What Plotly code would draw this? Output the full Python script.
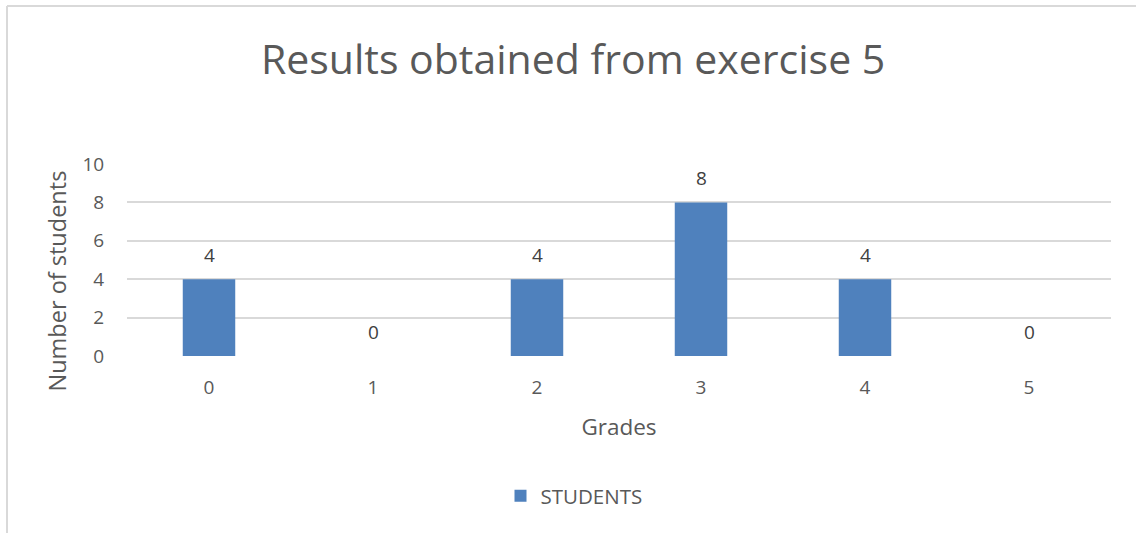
import plotly.graph_objects as go

grades = ["0", "1", "2", "3", "4", "5"]
students = [4, 0, 4, 8, 4, 0]
y_ticks = [0, 2, 4, 6, 8, 10]

FONT = "Open Sans"
GREY = "#595959"
BLUE = "#4F81BD"

fig = go.Figure()
fig.add_trace(go.Bar(
    x=grades, y=students, name="STUDENTS",
    marker=dict(color=BLUE, line=dict(width=0)),
    width=0.32, showlegend=True,
))

annotations = [
    dict(x=g, y=v, xref="x", yref="y", text=str(v), showarrow=False,
         yanchor="middle", yshift=24, font=dict(family=FONT, size=19, color="#404040"))
    for g, v in zip(grades, students)
]
# y-axis title (Excel places it slightly below the plot-area centre)
annotations.append(dict(
    text="Number of students", xref="paper", yref="paper",
    x=(56.5 - 127) / 984, y=(356 - 281) / 192, xanchor="center", yanchor="middle",
    textangle=-90, showarrow=False, font=dict(family=FONT, size=23.5, color=GREY),
))

fig.update_layout(
    width=1136, height=533,
    margin=dict(l=127, r=25, t=164, b=177),
    paper_bgcolor="white", plot_bgcolor="white",
    font=dict(family=FONT, color=GREY),
    title=dict(text="Results obtained from exercise 5", x=0.5045, xanchor="center",
               y=1 - 60 / 533, yanchor="middle", yref="container",
               font=dict(family=FONT, size=41, color=GREY)),
    xaxis=dict(
        type="category", showgrid=False, zeroline=False, showline=False,
        ticks="outside", ticklen=14, tickcolor="rgba(0,0,0,0)",
        tickfont=dict(family=FONT, size=19, color=GREY),
        title=dict(text="Grades", font=dict(family=FONT, size=22.5, color=GREY), standoff=20),
    ),
    yaxis=dict(
        range=[0, 10], tickvals=y_ticks, showgrid=True, gridcolor="#D9D9D9", gridwidth=1.5,
        zeroline=False, showline=False,
        ticks="outside", ticklen=18, tickcolor="rgba(0,0,0,0)",
        tickfont=dict(family=FONT, size=19, color=GREY),
    ),
    legend=dict(orientation="h", x=0.5 - 45 / 984, xanchor="center", y=-0.729, yanchor="middle",
                font=dict(family=FONT, size=20.5, color=GREY), itemwidth=30),
    annotations=annotations,
    shapes=[
        dict(type="line", xref="paper", yref="paper", x0=-120 / 984, x1=1030 / 984,
             y0=350 / 192, y1=350 / 192, line=dict(color="#D9D9D9", width=2)),
        dict(type="line", xref="paper", yref="paper", x0=-120 / 984, x1=-120 / 984,
             y0=350 / 192, y1=-190 / 192, line=dict(color="#D9D9D9", width=2)),
    ],
)

fig.write_html("out.html")
